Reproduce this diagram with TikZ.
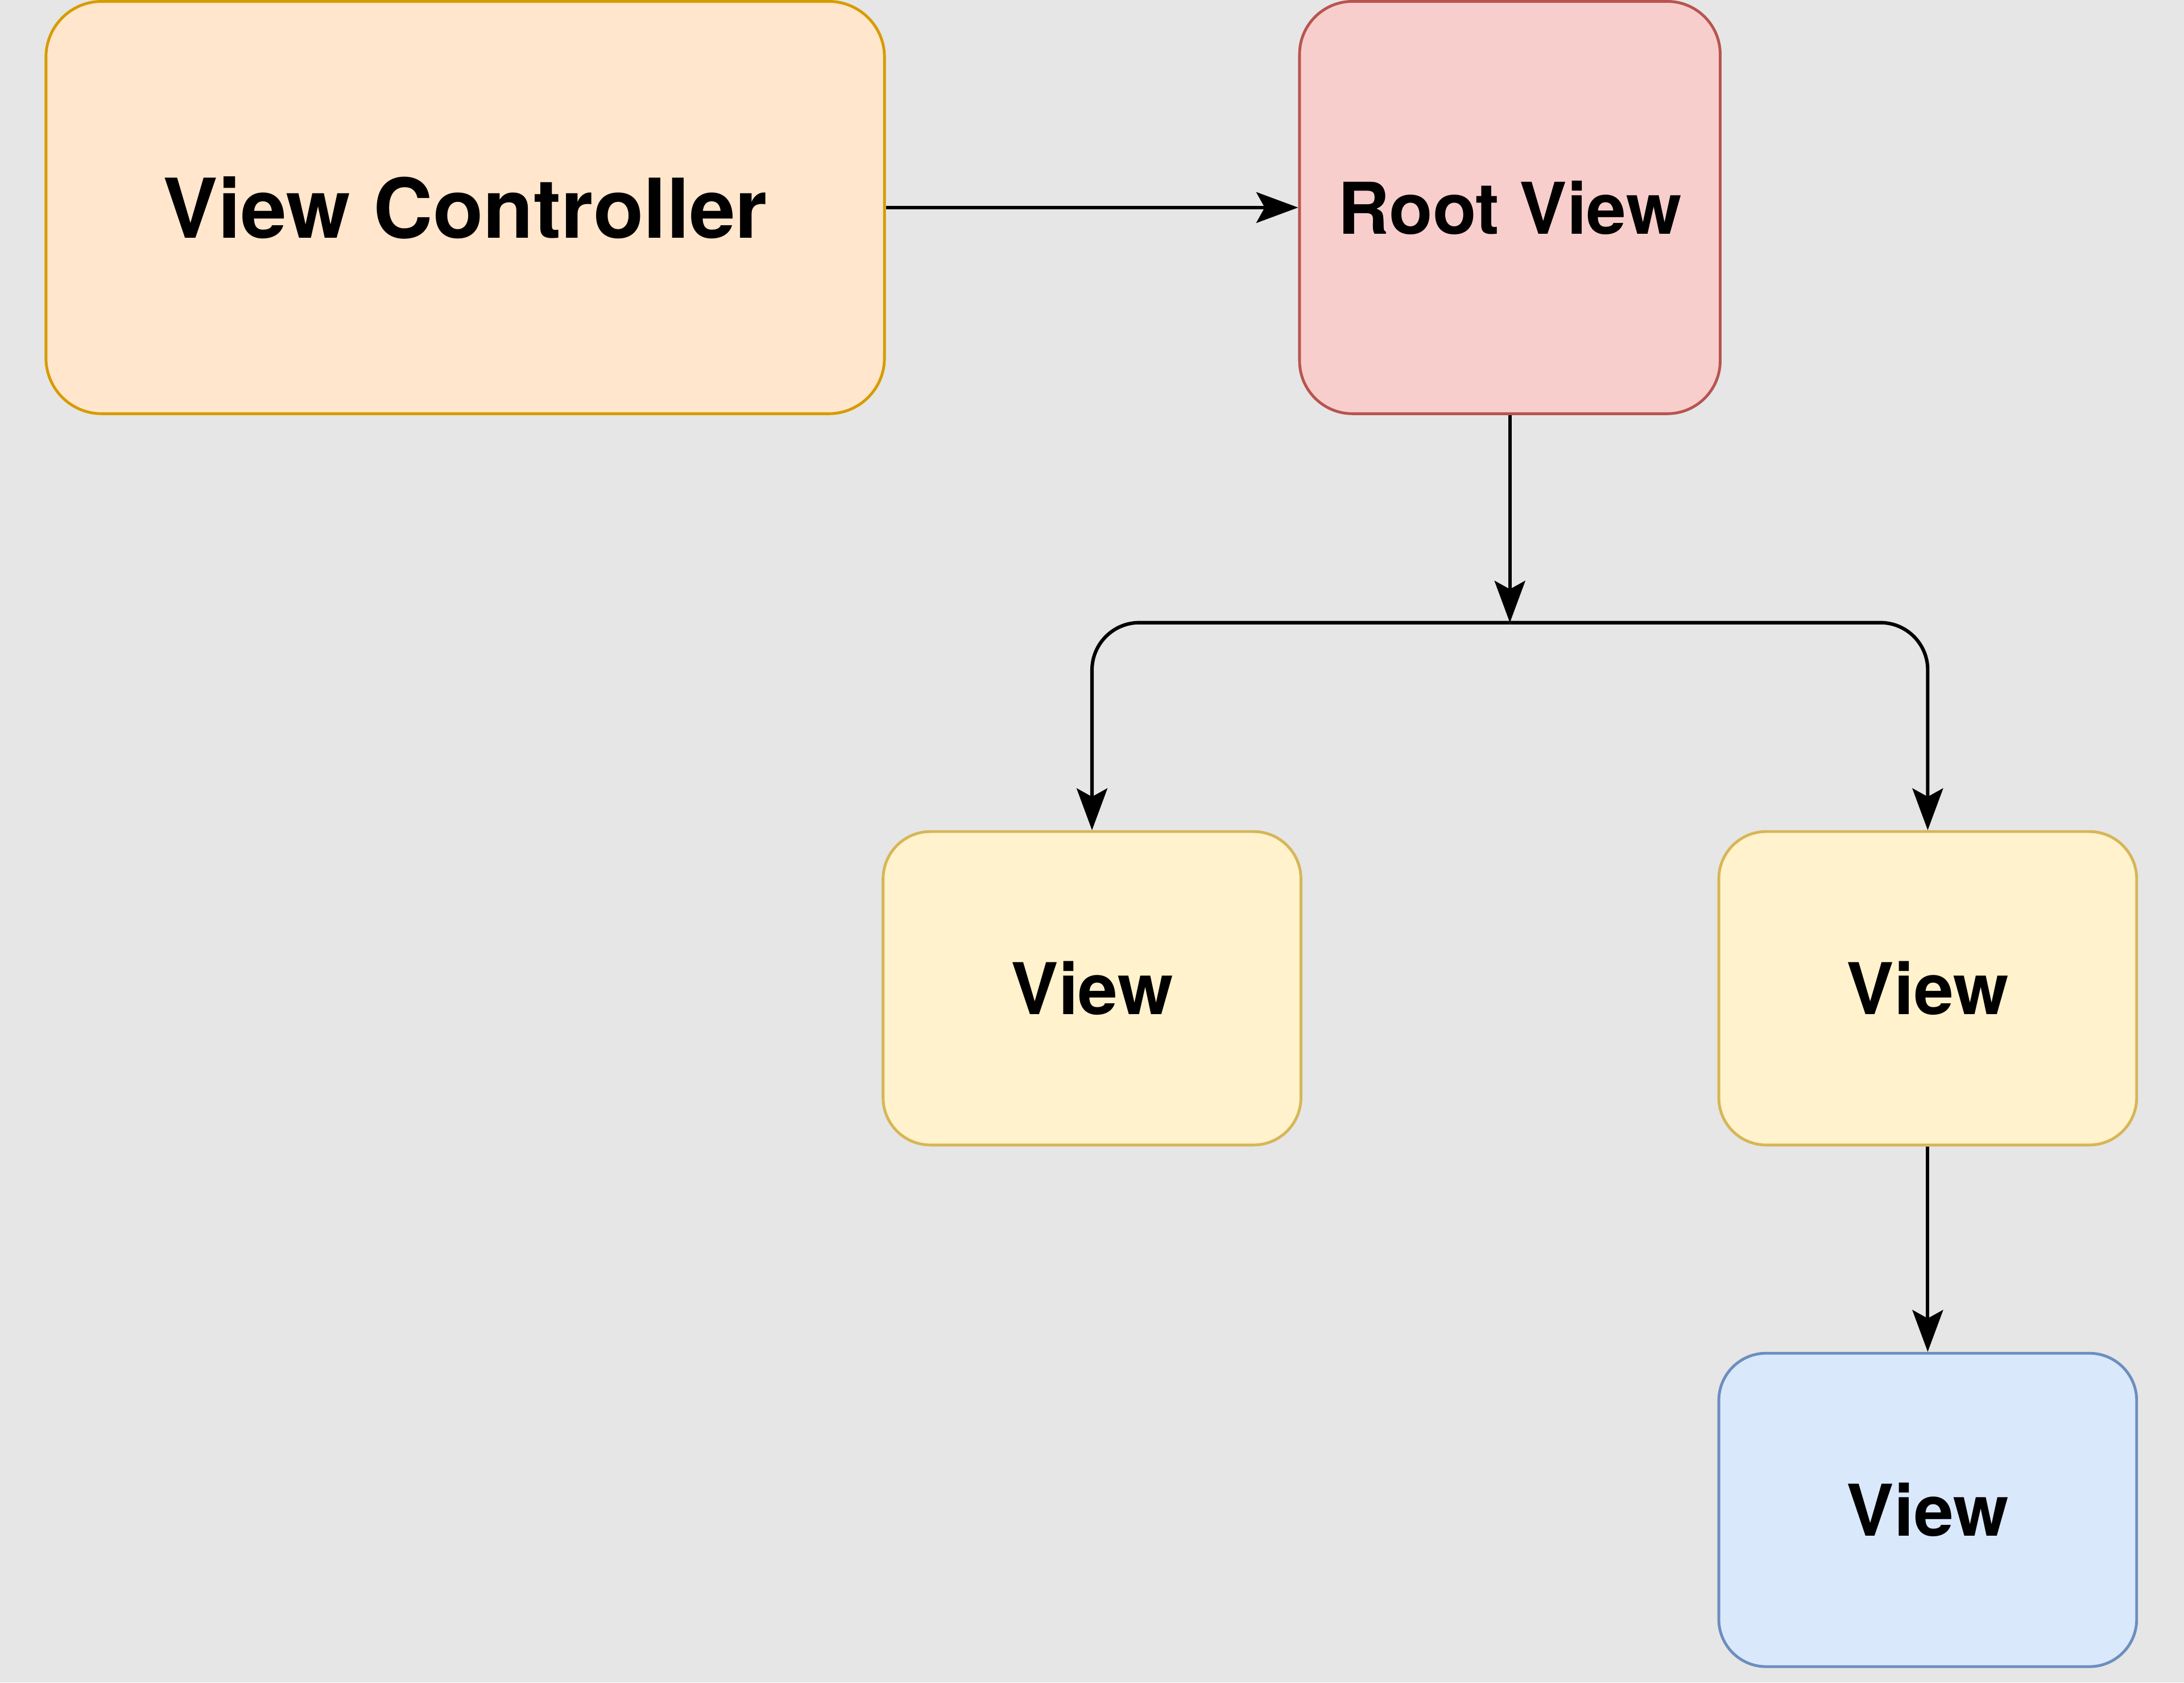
\documentclass[tikz,border=0pt]{standalone}
\usepackage{fontspec}
\setmainfont{TeX Gyre Heros}
\usetikzlibrary{arrows.meta}
\definecolor{bg}{HTML}{E6E6E6}
\definecolor{vcfill}{HTML}{FFE6CC}\definecolor{vcdraw}{HTML}{D79B00}
\definecolor{rvfill}{HTML}{F8CECC}\definecolor{rvdraw}{HTML}{B85450}
\definecolor{vwfill}{HTML}{FFF2CC}\definecolor{vwdraw}{HTML}{D6B656}
\definecolor{blfill}{HTML}{DAE8FC}\definecolor{bldraw}{HTML}{6C8EBF}
\tikzset{
  box/.style={draw, line width=1pt, rounded corners=17pt, inner sep=0pt,
    font=\fontsize{25.6}{30}\selectfont\bfseries, text=black},
  smallbox/.style={box, minimum width=150pt, minimum height=112.5pt},
  conn/.style={line width=1.25pt, draw=black, -{Stealth[length=15pt,width=11pt,inset=3pt]}}
}
\begin{document}
\begin{tikzpicture}[x=1pt,y=1pt]
\fill[bg] (0,0) rectangle (784,-604);
\useasboundingbox (0,0) rectangle (784,-604);
\node[box, fill=vcfill, draw=vcdraw, rounded corners=20pt, minimum width=301pt, minimum height=148pt,
  font=\fontsize{29.6}{35}\selectfont\bfseries] (vc) at (167,-74.5) {View Controller};
\node[box, fill=rvfill, draw=rvdraw, minimum width=151pt, minimum height=148pt, rounded corners=19pt] (rv) at (542,-74.5) {Root View};
\node[smallbox, fill=vwfill, draw=vwdraw] (v1) at (392,-354.75) {View};
\node[smallbox, fill=vwfill, draw=vwdraw] (v2) at (692,-354.75) {View};
\node[smallbox, fill=blfill, draw=bldraw] (v3) at (692,-542) {View};
\coordinate (j) at (rv.south |- 0,-223.5);
\draw[conn] (vc.east) -- (rv.west);
\draw[conn] (rv.south) -- (j);
\draw[conn, rounded corners=17pt] (j) -| (v1.north);
\draw[conn, rounded corners=17pt] (j) -| (v2.north);
\draw[conn] (v2.south) -- (v3.north);
\end{tikzpicture}
\end{document}
